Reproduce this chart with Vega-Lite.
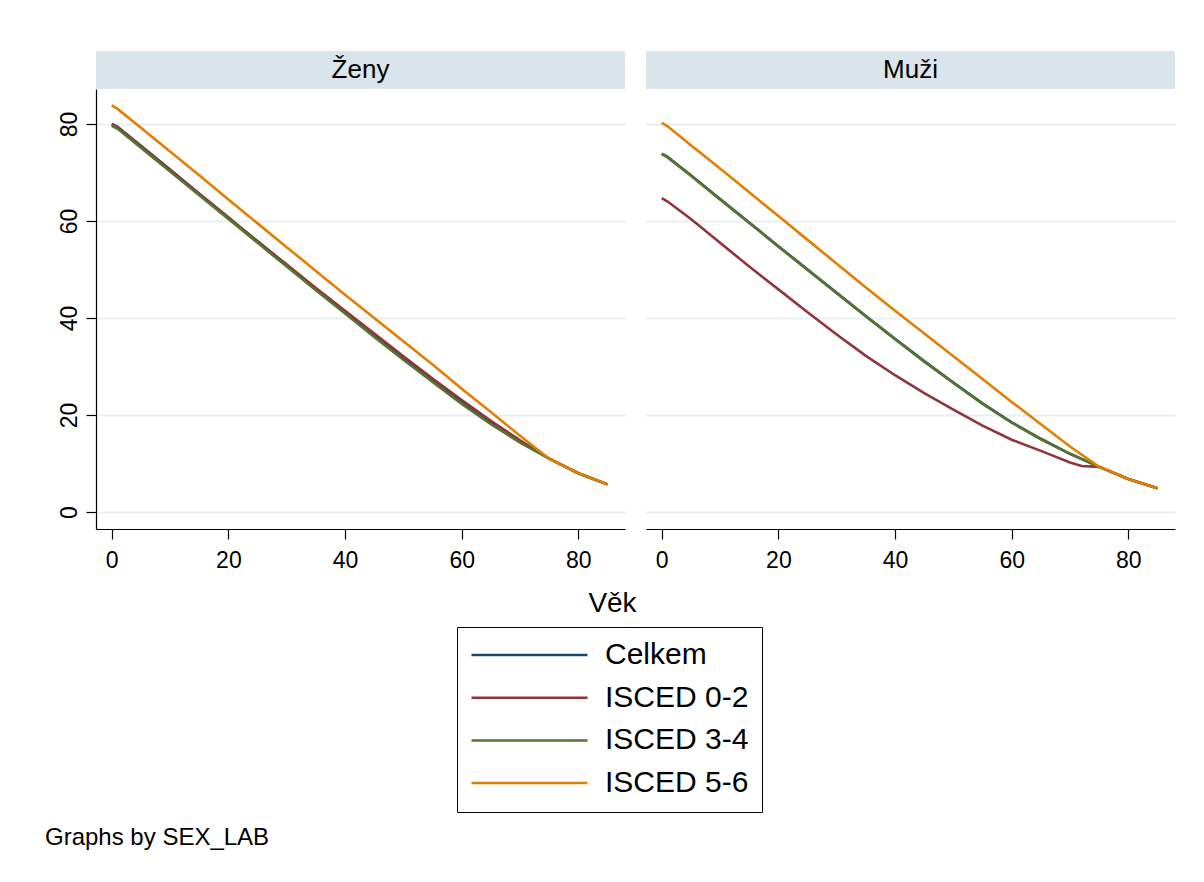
{
  "$schema": "https://vega.github.io/schema/vega-lite/v6.json",
  "background": "white",
  "padding": {"left": 45, "top": 51, "right": 20, "bottom": 10},
  "datasets": {
    "d": [
      {"s":"Ženy","g":"Celkem","a":0,"v":80.0},{"s":"Ženy","g":"Celkem","a":1,"v":79.4},{"s":"Ženy","g":"Celkem","a":5,"v":75.5},{"s":"Ženy","g":"Celkem","a":10,"v":70.6},{"s":"Ženy","g":"Celkem","a":15,"v":65.6},{"s":"Ženy","g":"Celkem","a":20,"v":60.7},{"s":"Ženy","g":"Celkem","a":25,"v":55.8},{"s":"Ženy","g":"Celkem","a":30,"v":50.9},{"s":"Ženy","g":"Celkem","a":35,"v":46.0},{"s":"Ženy","g":"Celkem","a":40,"v":41.2},{"s":"Ženy","g":"Celkem","a":45,"v":36.4},{"s":"Ženy","g":"Celkem","a":50,"v":31.7},{"s":"Ženy","g":"Celkem","a":55,"v":27.1},{"s":"Ženy","g":"Celkem","a":60,"v":22.7},{"s":"Ženy","g":"Celkem","a":65,"v":18.5},{"s":"Ženy","g":"Celkem","a":70,"v":14.6},{"s":"Ženy","g":"Celkem","a":75,"v":11.0},{"s":"Ženy","g":"Celkem","a":80,"v":8.0},{"s":"Ženy","g":"Celkem","a":85,"v":5.7},
      {"s":"Ženy","g":"ISCED 0-2","a":0,"v":79.9},{"s":"Ženy","g":"ISCED 0-2","a":1,"v":79.3},{"s":"Ženy","g":"ISCED 0-2","a":5,"v":75.4},{"s":"Ženy","g":"ISCED 0-2","a":10,"v":70.5},{"s":"Ženy","g":"ISCED 0-2","a":15,"v":65.6},{"s":"Ženy","g":"ISCED 0-2","a":20,"v":60.7},{"s":"Ženy","g":"ISCED 0-2","a":25,"v":55.8},{"s":"Ženy","g":"ISCED 0-2","a":30,"v":51.0},{"s":"Ženy","g":"ISCED 0-2","a":35,"v":46.2},{"s":"Ženy","g":"ISCED 0-2","a":40,"v":41.5},{"s":"Ženy","g":"ISCED 0-2","a":45,"v":36.8},{"s":"Ženy","g":"ISCED 0-2","a":50,"v":32.1},{"s":"Ženy","g":"ISCED 0-2","a":55,"v":27.5},{"s":"Ženy","g":"ISCED 0-2","a":60,"v":23.1},{"s":"Ženy","g":"ISCED 0-2","a":65,"v":18.8},{"s":"Ženy","g":"ISCED 0-2","a":70,"v":14.8},{"s":"Ženy","g":"ISCED 0-2","a":75,"v":11.0},{"s":"Ženy","g":"ISCED 0-2","a":80,"v":8.0},{"s":"Ženy","g":"ISCED 0-2","a":85,"v":5.7},
      {"s":"Ženy","g":"ISCED 3-4","a":0,"v":79.6},{"s":"Ženy","g":"ISCED 3-4","a":1,"v":79.0},{"s":"Ženy","g":"ISCED 3-4","a":5,"v":75.1},{"s":"Ženy","g":"ISCED 3-4","a":10,"v":70.2},{"s":"Ženy","g":"ISCED 3-4","a":15,"v":65.3},{"s":"Ženy","g":"ISCED 3-4","a":20,"v":60.4},{"s":"Ženy","g":"ISCED 3-4","a":25,"v":55.5},{"s":"Ženy","g":"ISCED 3-4","a":30,"v":50.6},{"s":"Ženy","g":"ISCED 3-4","a":35,"v":45.7},{"s":"Ženy","g":"ISCED 3-4","a":40,"v":40.9},{"s":"Ženy","g":"ISCED 3-4","a":45,"v":36.1},{"s":"Ženy","g":"ISCED 3-4","a":50,"v":31.4},{"s":"Ženy","g":"ISCED 3-4","a":55,"v":26.8},{"s":"Ženy","g":"ISCED 3-4","a":60,"v":22.3},{"s":"Ženy","g":"ISCED 3-4","a":65,"v":18.1},{"s":"Ženy","g":"ISCED 3-4","a":70,"v":14.3},{"s":"Ženy","g":"ISCED 3-4","a":75,"v":11.0},{"s":"Ženy","g":"ISCED 3-4","a":80,"v":8.0},{"s":"Ženy","g":"ISCED 3-4","a":85,"v":5.7},
      {"s":"Ženy","g":"ISCED 5-6","a":0,"v":83.8},{"s":"Ženy","g":"ISCED 5-6","a":1,"v":83.1},{"s":"Ženy","g":"ISCED 5-6","a":5,"v":79.2},{"s":"Ženy","g":"ISCED 5-6","a":10,"v":74.3},{"s":"Ženy","g":"ISCED 5-6","a":15,"v":69.4},{"s":"Ženy","g":"ISCED 5-6","a":20,"v":64.4},{"s":"Ženy","g":"ISCED 5-6","a":25,"v":59.5},{"s":"Ženy","g":"ISCED 5-6","a":30,"v":54.6},{"s":"Ženy","g":"ISCED 5-6","a":35,"v":49.7},{"s":"Ženy","g":"ISCED 5-6","a":40,"v":44.8},{"s":"Ženy","g":"ISCED 5-6","a":45,"v":40.0},{"s":"Ženy","g":"ISCED 5-6","a":50,"v":35.2},{"s":"Ženy","g":"ISCED 5-6","a":55,"v":30.4},{"s":"Ženy","g":"ISCED 5-6","a":60,"v":25.4},{"s":"Ženy","g":"ISCED 5-6","a":65,"v":20.6},{"s":"Ženy","g":"ISCED 5-6","a":70,"v":15.7},{"s":"Ženy","g":"ISCED 5-6","a":75,"v":11.0},{"s":"Ženy","g":"ISCED 5-6","a":80,"v":8.0},{"s":"Ženy","g":"ISCED 5-6","a":85,"v":5.7},
      {"s":"Muži","g":"Celkem","a":0,"v":73.9},{"s":"Muži","g":"Celkem","a":1,"v":73.2},{"s":"Muži","g":"Celkem","a":5,"v":69.4},{"s":"Muži","g":"Celkem","a":10,"v":64.5},{"s":"Muži","g":"Celkem","a":15,"v":59.7},{"s":"Muži","g":"Celkem","a":20,"v":54.8},{"s":"Muži","g":"Celkem","a":25,"v":50.0},{"s":"Muži","g":"Celkem","a":30,"v":45.2},{"s":"Muži","g":"Celkem","a":35,"v":40.4},{"s":"Muži","g":"Celkem","a":40,"v":35.7},{"s":"Muži","g":"Celkem","a":45,"v":31.1},{"s":"Muži","g":"Celkem","a":50,"v":26.7},{"s":"Muži","g":"Celkem","a":55,"v":22.4},{"s":"Muži","g":"Celkem","a":60,"v":18.5},{"s":"Muži","g":"Celkem","a":65,"v":15.1},{"s":"Muži","g":"Celkem","a":70,"v":12.0},{"s":"Muži","g":"Celkem","a":75,"v":9.3},{"s":"Muži","g":"Celkem","a":80,"v":6.8},{"s":"Muži","g":"Celkem","a":85,"v":4.9},
      {"s":"Muži","g":"ISCED 0-2","a":0,"v":64.7},{"s":"Muži","g":"ISCED 0-2","a":1,"v":64.0},{"s":"Muži","g":"ISCED 0-2","a":5,"v":60.4},{"s":"Muži","g":"ISCED 0-2","a":10,"v":55.5},{"s":"Muži","g":"ISCED 0-2","a":15,"v":50.6},{"s":"Muži","g":"ISCED 0-2","a":20,"v":45.9},{"s":"Muži","g":"ISCED 0-2","a":25,"v":41.2},{"s":"Muži","g":"ISCED 0-2","a":30,"v":36.6},{"s":"Muži","g":"ISCED 0-2","a":35,"v":32.2},{"s":"Muži","g":"ISCED 0-2","a":40,"v":28.2},{"s":"Muži","g":"ISCED 0-2","a":45,"v":24.5},{"s":"Muži","g":"ISCED 0-2","a":50,"v":21.1},{"s":"Muži","g":"ISCED 0-2","a":55,"v":17.8},{"s":"Muži","g":"ISCED 0-2","a":60,"v":14.9},{"s":"Muži","g":"ISCED 0-2","a":65,"v":12.6},{"s":"Muži","g":"ISCED 0-2","a":70,"v":10.2},{"s":"Muži","g":"ISCED 0-2","a":72,"v":9.5},{"s":"Muži","g":"ISCED 0-2","a":75,"v":9.3},{"s":"Muži","g":"ISCED 0-2","a":80,"v":6.8},{"s":"Muži","g":"ISCED 0-2","a":85,"v":4.9},
      {"s":"Muži","g":"ISCED 3-4","a":0,"v":73.8},{"s":"Muži","g":"ISCED 3-4","a":1,"v":73.1},{"s":"Muži","g":"ISCED 3-4","a":5,"v":69.3},{"s":"Muži","g":"ISCED 3-4","a":10,"v":64.4},{"s":"Muži","g":"ISCED 3-4","a":15,"v":59.6},{"s":"Muži","g":"ISCED 3-4","a":20,"v":54.7},{"s":"Muži","g":"ISCED 3-4","a":25,"v":49.9},{"s":"Muži","g":"ISCED 3-4","a":30,"v":45.1},{"s":"Muži","g":"ISCED 3-4","a":35,"v":40.3},{"s":"Muži","g":"ISCED 3-4","a":40,"v":35.6},{"s":"Muži","g":"ISCED 3-4","a":45,"v":31.0},{"s":"Muži","g":"ISCED 3-4","a":50,"v":26.6},{"s":"Muži","g":"ISCED 3-4","a":55,"v":22.3},{"s":"Muži","g":"ISCED 3-4","a":60,"v":18.4},{"s":"Muži","g":"ISCED 3-4","a":65,"v":15.0},{"s":"Muži","g":"ISCED 3-4","a":70,"v":12.0},{"s":"Muži","g":"ISCED 3-4","a":75,"v":9.3},{"s":"Muži","g":"ISCED 3-4","a":80,"v":6.8},{"s":"Muži","g":"ISCED 3-4","a":85,"v":4.9},
      {"s":"Muži","g":"ISCED 5-6","a":0,"v":80.2},{"s":"Muži","g":"ISCED 5-6","a":1,"v":79.5},{"s":"Muži","g":"ISCED 5-6","a":5,"v":75.6},{"s":"Muži","g":"ISCED 5-6","a":10,"v":70.8},{"s":"Muži","g":"ISCED 5-6","a":15,"v":65.9},{"s":"Muži","g":"ISCED 5-6","a":20,"v":61.0},{"s":"Muži","g":"ISCED 5-6","a":25,"v":56.1},{"s":"Muži","g":"ISCED 5-6","a":30,"v":51.2},{"s":"Muži","g":"ISCED 5-6","a":35,"v":46.3},{"s":"Muži","g":"ISCED 5-6","a":40,"v":41.5},{"s":"Muži","g":"ISCED 5-6","a":45,"v":36.8},{"s":"Muži","g":"ISCED 5-6","a":50,"v":32.1},{"s":"Muži","g":"ISCED 5-6","a":55,"v":27.4},{"s":"Muži","g":"ISCED 5-6","a":60,"v":22.7},{"s":"Muži","g":"ISCED 5-6","a":65,"v":18.1},{"s":"Muži","g":"ISCED 5-6","a":70,"v":13.5},{"s":"Muži","g":"ISCED 5-6","a":75,"v":9.3},{"s":"Muži","g":"ISCED 5-6","a":80,"v":6.8},{"s":"Muži","g":"ISCED 5-6","a":85,"v":4.9}
    ]
  },
  "title": {"text": "Graphs by SEX_LAB", "orient": "bottom", "anchor": "start", "fontSize": 24, "fontWeight": "normal", "offset": 13, "dx": -13},
  "vconcat": [
    {
      "title": {"text": "Věk", "orient": "bottom", "anchor": "middle", "fontSize": 28, "fontWeight": "normal", "offset": 18, "dx": -4},
      "spacing": 21,
      "hconcat": [
        {
          "spacing": 0,
          "vconcat": [
            {
              "width": 529, "height": 38,
              "data": {"values": [{"s": "Ženy"}]},
              "view": {"fill": "#d9e5eb", "stroke": null},
              "mark": {"type": "text", "fontSize": 26, "color": "#000"},
              "encoding": {"text": {"field": "s"}}
            },
            {
              "width": 529, "height": 440,
              "data": {"name": "d"},
              "transform": [{"filter": "datum.s === 'Ženy'"}],
              "mark": {"type": "line", "strokeWidth": 2.6},
              "encoding": {
                "x": {"field": "a", "type": "quantitative", "scale": {"domain": [-2.7, 88], "nice": false, "zero": false}, "axis": {"values": [0, 20, 40, 60, 80], "title": null, "labelPadding": 10, "grid": false}},
                "y": {"field": "v", "type": "quantitative", "scale": {"domain": [-3.5, 87.2], "nice": false, "zero": false}, "axis": {"values": [0, 20, 40, 60, 80], "title": null, "grid": true, "labelAngle": -90, "labelPadding": 5}},
                "color": {"field": "g", "type": "nominal", "scale": {"domain": ["Celkem", "ISCED 0-2", "ISCED 3-4", "ISCED 5-6"], "range": ["#1a476f", "#90353b", "#55752f", "#e37e00"]}}
              }
            }
          ]
        },
        {
          "spacing": 0,
          "vconcat": [
            {
              "width": 529, "height": 38,
              "data": {"values": [{"s": "Muži"}]},
              "view": {"fill": "#d9e5eb", "stroke": null},
              "mark": {"type": "text", "fontSize": 26, "color": "#000"},
              "encoding": {"text": {"field": "s"}}
            },
            {
              "width": 529, "height": 440,
              "data": {"name": "d"},
              "transform": [{"filter": "datum.s === 'Muži'"}],
              "mark": {"type": "line", "strokeWidth": 2.6},
              "encoding": {
                "x": {"field": "a", "type": "quantitative", "scale": {"domain": [-2.7, 88], "nice": false, "zero": false}, "axis": {"values": [0, 20, 40, 60, 80], "title": null, "labelPadding": 10, "grid": false}},
                "y": {"field": "v", "type": "quantitative", "scale": {"domain": [-3.5, 87.2], "nice": false, "zero": false}, "axis": {"values": [0, 20, 40, 60, 80], "title": null, "grid": true, "labels": false, "ticks": false, "domain": false}},
                "color": {"field": "g", "type": "nominal", "scale": {"domain": ["Celkem", "ISCED 0-2", "ISCED 3-4", "ISCED 5-6"], "range": ["#1a476f", "#90353b", "#55752f", "#e37e00"]}}
              }
            }
          ]
        }
      ]
    }
  ],
  "config": {
    "font": "Liberation Sans",
    "view": {"stroke": null},
    "axis": {"labelFont": "Liberation Sans", "labelFontSize": 23, "labelColor": "#000", "domainColor": "#000", "tickColor": "#000", "tickSize": 10, "domainWidth": 1.2, "tickWidth": 1.2, "gridColor": "#e9f0f3", "gridWidth": 2},
    "title": {"font": "Liberation Sans", "color": "#000"},
    "legend": {"orient": "none", "legendX": 361, "legendY": 576, "direction": "vertical", "title": null, "symbolType": "stroke", "symbolSize": 13456, "symbolStrokeWidth": 2.5, "clipHeight": 30, "rowPadding": 12.7, "padding": 13, "labelFont": "Liberation Sans", "labelFontSize": 30, "labelColor": "#000", "labelOffset": 16, "labelLimit": 400, "strokeColor": "#000", "fillColor": "#fff"}
  }
}
